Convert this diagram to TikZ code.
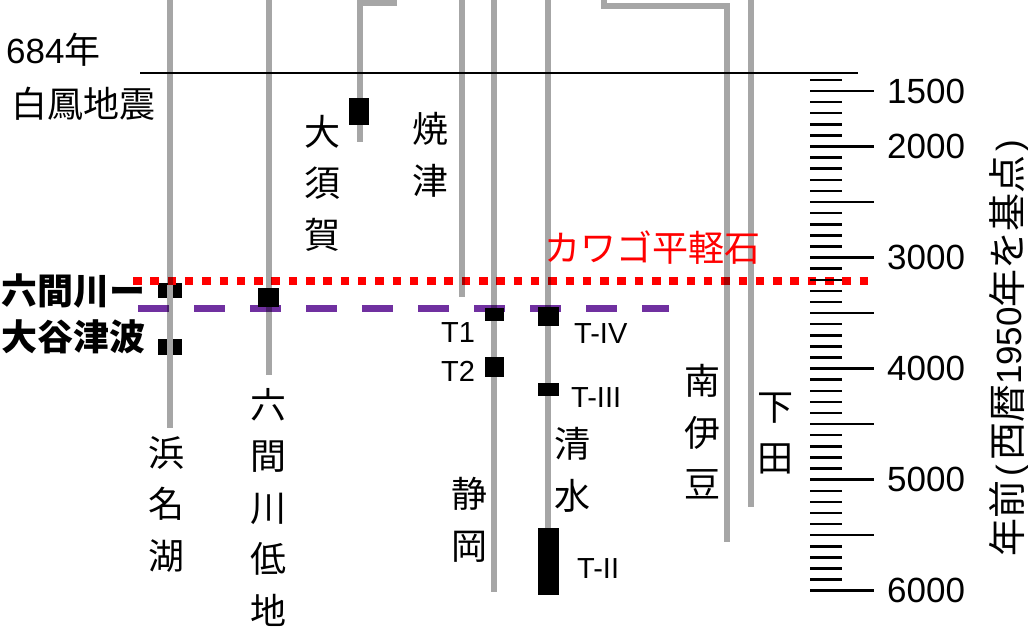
\documentclass[tikz,border=0pt]{standalone}
\usepackage{fontspec}
\setmainfont{Liberation Sans}
\newfontfamily\cjk{Noto Sans CJK JP}
\begin{document}
\begin{tikzpicture}[x=1pt,y=-1pt]
\tikzset{
  glin/.style={line width=6.5pt, draw=black, draw opacity=0.35},
  gsolid/.style={line width=6.5pt, draw={rgb,255:red,166;green,166;blue,166}},
  vlab/.style={font={\cjk\fontsize{36}{51.5}\selectfont}, inner sep=0pt, align=center},
  hlab/.style={font={\cjk\fontsize{36}{43}\selectfont}, inner sep=0pt, anchor=west},
  blab/.style={font={\cjk\bfseries\fontsize{36}{43}\selectfont}, inner sep=0pt, anchor=west},
  tlab/.style={font={\fontsize{29}{34}\selectfont}, inner sep=0pt, anchor=west},
  nlab/.style={font={\fontsize{35}{40}\selectfont}, inner sep=0pt, anchor=west},
  tick/.style={line width=2.5pt, draw=black},
}
\definecolor{kpurple}{RGB}{112,48,160}
\useasboundingbox (0,0) rectangle (1028,627);

% event line
\draw[line width=1.5pt] (140,73) -- (858,73);

% deposit boxes under the Hamanako column
\fill (158,283) rectangle (182,298);
\fill (158,339) rectangle (182,355);

% red pumice line and purple tsunami line
\draw[red, line width=8pt, dash pattern=on 8.5pt off 8.8pt] (133,281) -- (868,281);
\draw[kpurple, line width=7pt, dash pattern=on 31pt off 25pt] (138,308.5) -- (669,308.5);

% core columns
\draw[glin] (170,-5) -- (170,428);
\draw[gsolid] (170,285) -- (170,298) (170,339) -- (170,355);
\draw[glin] (269,-5) -- (269,375);
\draw[glin] (397,3) -- (360,3) -- (360,142);
\draw[glin] (462,-5) -- (462,297);
\draw[glin] (494,-5) -- (494,592);
\draw[glin] (548,-5) -- (548,528);
\draw[glin] (604,-5) -- (604,6) -- (727,6) -- (727,542);
\draw[glin] (751,-5) -- (751,507);

% deposit boxes
\fill (349,98) rectangle (369,125);
\fill (258,288) rectangle (279,307);
\fill (485,308) rectangle (504,321);
\fill (485,357) rectangle (504,377);
\fill (538,307) rectangle (559,326);
\fill (538,383) rectangle (559,396);
\fill (538,528) rectangle (559,595);

% scale
\foreach \i in {0,...,46}{
  \pgfmathtruncatemacro{\m}{mod(\i,5)}
  \pgfmathsetmacro{\yy}{79.9+\i*11.104}
  \ifnum\m=1
    \draw[tick] (810,\yy) -- (874,\yy);
  \else
    \draw[tick] (810,\yy) -- (842,\yy);
  \fi
}
\node[nlab] (y1500) at (887,91) {1500};
\node[nlab] (y2000) at (887,146.4) {2000};
\node[nlab] (y3000) at (887,257.5) {3000};
\node[nlab] (y4000) at (887,368.5) {4000};
\node[nlab] (y5000) at (887,479.6) {5000};
\node[nlab] (y6000) at (887,590.6) {6000};
\node[inner sep=0pt, rotate=90, font={\fontsize{35}{40}\selectfont}] (axis) at (1009,348)
  {{\cjk\fontsize{38}{40}\selectfont 年前}\hspace{4pt}(\hspace{4pt}{\cjk\fontsize{38}{40}\selectfont 西暦}1950{\cjk\fontsize{38}{40}\selectfont 年を基点}\hspace{4pt})};

% labels
\node[hlab] (yr684) at (6,50) {{\fontsize{35}{40}\selectfont\rmfamily 684}年};
\node[hlab] (hakuho) at (11,104) {白鳳地震};
\node[blab] (rokken) at (1,291) {六間川ー};
\node[blab] (ooya) at (1,337) {大谷津波};
\node[hlab, text=red] (kawago) at (544,248) {カワゴ平軽石};

\node[vlab] (oosuka) at (322,183) {大\\須\\賀};
\node[vlab] (yaizu) at (430,155) {焼\\津};
\node[vlab] (hamana) at (166.5,504) {浜\\名\\湖};
\node[vlab] (rokkenl) at (268,507) {六\\間\\川\\低\\地};
\node[vlab] (shizuoka) at (469,520) {静\\岡};
\node[vlab] (shimizu) at (572,470) {清\\水};
\node[vlab] (minami) at (702,432) {南\\伊\\豆};
\node[vlab] (shimoda) at (775,433.5) {下\\田};

\node[tlab] (t1) at (441,332.5) {T1};
\node[tlab] (t2) at (441,371) {T2};
\node[tlab] (t4) at (574,334) {T-IV};
\node[tlab] (t3) at (571,397.5) {T-III};
\node[tlab] (t22) at (577,569) {T-II};
\end{tikzpicture}
\end{document}
